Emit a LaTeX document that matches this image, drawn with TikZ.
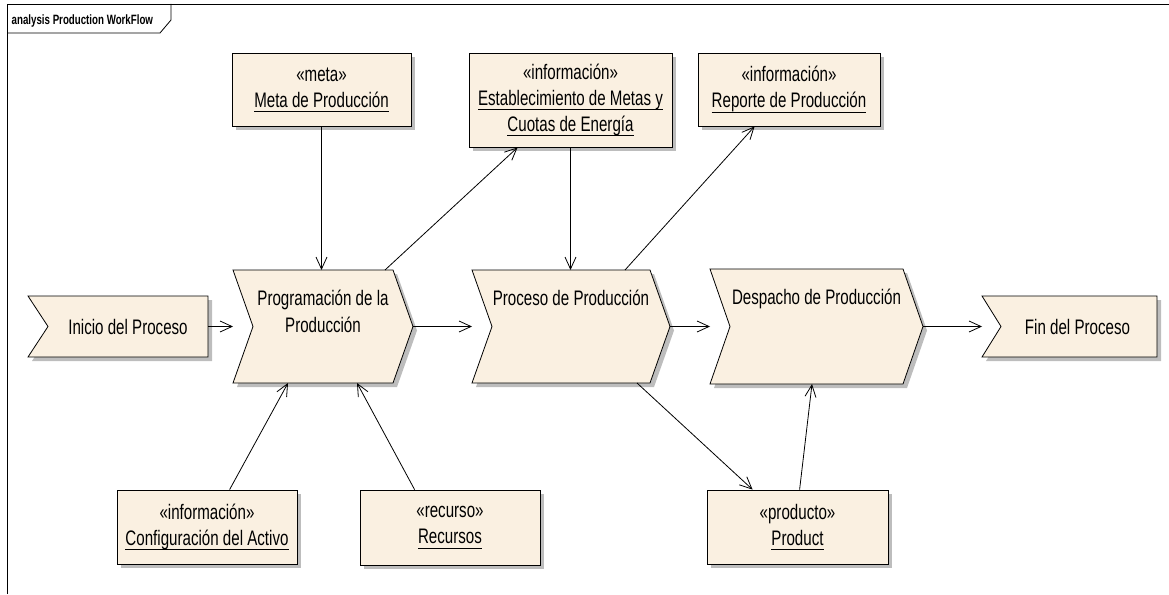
\documentclass[tikz,border=0pt]{standalone}
\usepackage{fontspec}
\setmainfont{Liberation Sans}[FakeStretch=0.72]
\usetikzlibrary{arrows.meta,shadows}

\definecolor{boxfill}{HTML}{FAF0E1}
\definecolor{shadegray}{HTML}{BDBDBD}

% underlined text with a fixed rule position
\newcommand\utext[1]{\setbox0\hbox{#1}\leavevmode\rlap{\rule[-4.5pt]{\wd0}{0.9pt}}\box0}

\tikzset{
  shadowed/.style={drop shadow={shadow xshift=4pt, shadow yshift=-4pt, fill=shadegray, opacity=1}},
  labelfont/.style={font=\fontsize{21}{26}\selectfont},
  artifact/.style={rectangle, draw, line width=0.8pt, fill=boxfill, shadowed,
    align=center, inner sep=0pt, labelfont},
  area/.style={rectangle, inner sep=0pt, outer sep=0pt},
  stepshape/.style={draw, line width=0.8pt, fill=boxfill, line join=miter, shadowed},
  steptext/.style={align=center, inner sep=0pt, font=\fontsize{21}{27}\selectfont},
  flow/.style={draw, line width=0.8pt, -{Straight Barb[length=12pt,width=11pt]}},
  frameline/.style={draw, line width=0.8pt},
}

\begin{document}
\begin{tikzpicture}[x=1pt, y=-1pt]
\useasboundingbox (0,0) rectangle (1169,594);

% diagram frame and its name tab
\path[frameline] (7,594) -- (7,4) -- (1169,4);
\path[frameline] (171,4) -- (171,20) -- (160,33) -- (7,33);
\node[anchor=base west, inner sep=0pt, font=\bfseries\fontsize{13.5}{16}\selectfont] (frametitle) at (11.5,24.5) {analysis Production WorkFlow};

% areas of the process steps
\node[area, minimum width=180pt, minimum height=61pt]  (inicio)   at (118,326.5)   {};
\node[area, minimum width=180pt, minimum height=113pt] (prog)     at (323,326.5)   {};
\node[area, minimum width=198pt, minimum height=113pt] (proceso)  at (571,326.5)   {};
\node[area, minimum width=213pt, minimum height=115pt] (despacho) at (816.5,326.5) {};
\node[area, minimum width=175pt, minimum height=61pt]  (fin)      at (1069.5,326.5) {};

% step outlines
\path[stepshape] (inicio.north west) -- (inicio.north east) -- (inicio.south east)
  -- (inicio.south west) -- ([xshift=20pt]inicio.west) -- cycle;
\path[stepshape] (fin.north west) -- (fin.north east) -- (fin.south east)
  -- (fin.south west) -- ([xshift=19pt]fin.west) -- cycle;
\foreach \s in {prog,proceso,despacho}{
  \path[stepshape] (\s.north west) -- ([xshift=-20pt]\s.north east) -- (\s.east)
    -- ([xshift=-20pt]\s.south east) -- (\s.south west) -- ([xshift=20pt]\s.west) -- cycle;
}

% step names (base anchor sits on the last line)
\node[steptext] (iniciotxt) at ([xshift=10pt]inicio.center) {Inicio del Proceso};
\node[steptext] (fintxt) at ([xshift=8pt]fin.center) {Fin del Proceso};
\node[steptext, anchor=base] (progtxt) at ([yshift=-62pt]prog.north) {Programación de la\\Producción};
\node[steptext, anchor=base] (procesotxt) at ([yshift=-35pt]proceso.north) {Proceso de Producción};
\node[steptext, anchor=base] (despachotxt) at ([yshift=-35pt]despacho.north) {Despacho de Producción};

% artifacts
\node[artifact, minimum width=179pt, minimum height=73pt] (meta) at (321.5,89.5)
  {«meta»\\\utext{Meta de Producción}};
\node[artifact, minimum width=203pt, minimum height=94pt] (estab) at (570.5,100)
  {«información»\\\utext{Establecimiento de Metas y}\\\utext{Cuotas de Energía}};
\node[artifact, minimum width=182pt, minimum height=73pt] (reporte) at (789,89.5)
  {«información»\\\utext{Reporte de Producción}};
\node[artifact, minimum width=180pt, minimum height=74pt] (config) at (207,527)
  {«información»\\\utext{Configuración del Activo}};
\node[artifact, minimum width=180pt, minimum height=75pt] (recursos) at (450,527.5)
  {«recurso»\\\utext{Recursos}};
\node[artifact, minimum width=181pt, minimum height=74pt] (product) at (797.5,527)
  {«producto»\\\utext{Product}};

% main flow
\path[flow] (inicio.east) -- (prog.west);
\path[flow] (prog.east) -- (proceso.west);
\path[flow] (proceso.east) -- (despacho.west);
\path[flow] (despacho.east) -- (fin.west);

% inputs and outputs
\path[flow] (meta.south) -- (meta.south |- prog.north);
\path[flow] ([xshift=152pt]prog.north west) -- ([xshift=49pt]estab.south west);
\path[flow] (estab.south) -- (estab.south |- proceso.north);
\path[flow] ([xshift=153pt]proceso.north west) -- ([xshift=57pt]reporte.south west);
\path[flow] ([xshift=165pt]proceso.south west) -- ([xshift=46pt]product.north west);
\path[flow] ([xshift=93pt]product.north west) -- ([xshift=102pt]despacho.south west);
\path[flow] ([xshift=113pt]config.north west) -- ([xshift=55pt]prog.south west);
\path[flow] ([xshift=55pt]recursos.north west) -- ([xshift=124pt]prog.south west);
\end{tikzpicture}
\end{document}
